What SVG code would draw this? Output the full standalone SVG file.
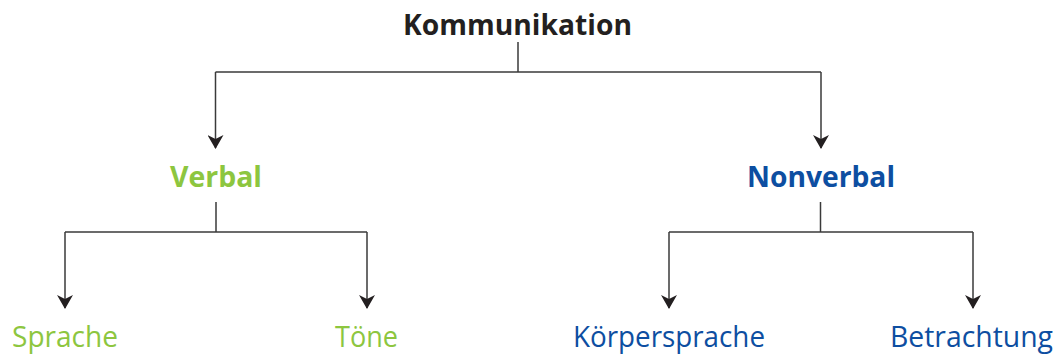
<svg xmlns="http://www.w3.org/2000/svg" width="1058" height="356" viewBox="0 0 1058 356">
<style>
.t{font-family:"Open Sans","Noto Sans","Liberation Sans",sans-serif;font-size:29px;text-anchor:middle}
.b{font-weight:bold}
.k{fill:#231f20}
.g{fill:#8dc63f}
.bl{fill:#0d4ea1}
.c{fill:none;stroke:#3a3a3a;stroke-width:1.5}
</style>
<defs>
<marker id="ah" viewBox="0 0 14 16" refX="13" refY="8" markerWidth="14" markerHeight="16" markerUnits="userSpaceOnUse" orient="auto">
<path d="M0,0 L4,8 L0,16 L14,8 Z" fill="#231f20"/>
</marker>
</defs>
<rect width="1058" height="356" fill="#fff"/>
<g id="connectors">
<path class="c" d="M518,42 V72"/>
<path class="c" d="M215.5,72 H821"/>
<path class="c" d="M215.5,72 V148" marker-end="url(#ah)"/>
<path class="c" d="M821,72 V148" marker-end="url(#ah)"/>
<path class="c" d="M216,202 V232"/>
<path class="c" d="M65,232 H367"/>
<path class="c" d="M65,232 V308" marker-end="url(#ah)"/>
<path class="c" d="M367,232 V308" marker-end="url(#ah)"/>
<path class="c" d="M820.5,202 V232"/>
<path class="c" d="M669,232 H973"/>
<path class="c" d="M669,232 V308" marker-end="url(#ah)"/>
<path class="c" d="M973,232 V308" marker-end="url(#ah)"/>
</g>
<g id="kommunikation"><text class="t b k" x="517.5" y="35" textLength="229" lengthAdjust="spacingAndGlyphs">Kommunikation</text></g>
<g id="verbal"><text class="t b g" x="216" y="187" textLength="92" lengthAdjust="spacingAndGlyphs">Verbal</text></g>
<g id="nonverbal"><text class="t b bl" x="821" y="187" textLength="148" lengthAdjust="spacingAndGlyphs">Nonverbal</text></g>
<g id="sprache"><text class="t g" x="65" y="347" textLength="106" lengthAdjust="spacingAndGlyphs">Sprache</text></g>
<g id="toene"><text class="t g" x="366.5" y="347" textLength="63" lengthAdjust="spacingAndGlyphs">Töne</text></g>
<g id="koerpersprache"><text class="t bl" x="669" y="347" textLength="192" lengthAdjust="spacingAndGlyphs">Körpersprache</text></g>
<g id="betrachtung"><text class="t bl" x="971.5" y="347" textLength="163" lengthAdjust="spacingAndGlyphs">Betrachtung</text></g>
</svg>
